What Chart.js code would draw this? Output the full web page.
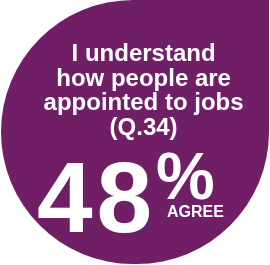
<!DOCTYPE html>
<html>
<head>
<meta charset="utf-8">
<script src="https://cdn.jsdelivr.net/npm/chart.js@4"></script>
<style>
  html, body { margin: 0; padding: 0; background: #fff; }
  #wrap { width: 270px; height: 265px; position: relative; }
</style>
</head>
<body>
<div id="wrap"><canvas id="myChart"></canvas></div>
<script>
// data
const categories = ['Q.34'];
const base = [100];          // whole respondent base, the drop shape
const agreeShare = [48];     // % who agree
const questionLines = ['I understand', 'how people are', 'appointed to jobs', '(Q.34)'];
const agreeLabel = 'AGREE';

const purple = '#701f66';
const fontFamily = '"Liberation Sans", Arial, sans-serif';

const textPlugin = {
    id: 'dropText',
    afterDatasetsDraw(chart) {
        const ctx = chart.ctx;
        const area = chart.chartArea;
        const cx = area.left + area.width * 0.532;
        ctx.save();
        ctx.fillStyle = '#fff';
        ctx.textBaseline = 'alphabetic';

        ctx.textAlign = 'center';
        ctx.font = 'bold 24px ' + fontFamily;
        questionLines.forEach((line, i) => {
            ctx.fillText(line, cx, area.top + 61 + i * 24.7);
        });

        ctx.textAlign = 'left';
        ctx.font = 'bold 100px ' + fontFamily;
        ctx.letterSpacing = '4px';
        ctx.fillText(String(agreeShare[0]), 37, 232);
        ctx.letterSpacing = '0px';

        ctx.font = 'bold 66px ' + fontFamily;
        ctx.fillText('%', 156, 199);

        ctx.font = 'bold 16px ' + fontFamily;
        ctx.fillText(agreeLabel, 167, 217);
        ctx.restore();
    }
};

const data = {
    labels: categories,
    datasets: [{
        label: 'Respondents',
        data: base,
        backgroundColor: purple,
        borderWidth: 0,
        borderSkipped: false,
        inflateAmount: 0,
        borderRadius: { topLeft: 300, topRight: 0, bottomLeft: 300, bottomRight: 300 },
        barPercentage: 1,
        categoryPercentage: 1
    }]
};

const config = {
    type: 'bar',
    data: data,
    options: {
        responsive: true,
        maintainAspectRatio: false,
        animation: false,
        layout: { padding: { left: 1, right: 1, top: 0, bottom: 1 } },
        plugins: {
            legend: { display: false },
            tooltip: { enabled: false }
        },
        scales: {
            x: { display: false },
            y: { display: false, min: 0, max: 100 }
        }
    },
    plugins: [textPlugin]
};

const myChart = new Chart(document.getElementById('myChart'), config);
</script>
</body>
</html>
